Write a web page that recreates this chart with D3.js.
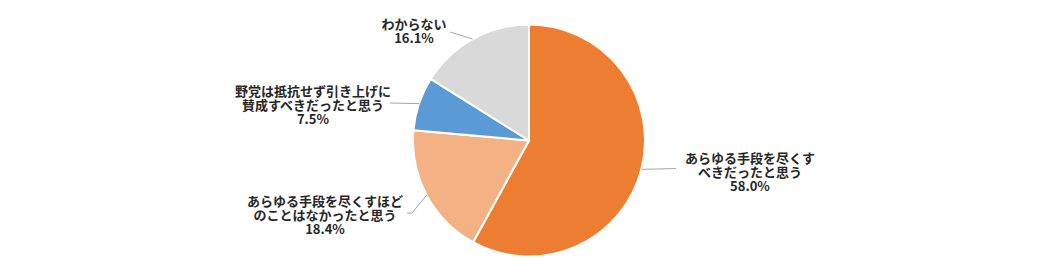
<!DOCTYPE html>
<html>
<head>
<meta charset="utf-8">
<script src="https://cdn.jsdelivr.net/npm/d3@7"></script>
<style>
  body { margin: 0; background: #fff; }
  .lbl { font-family: "Noto Sans CJK JP", "Noto Sans", sans-serif; font-weight: bold; font-size: 13px; fill: #262626; }
</style>
</head>
<body>
<div id="chart"></div>
<script>
// Pie chart of survey answers

var categories = [
    ["あらゆる手段を尽くす", "べきだったと思う"],
    ["あらゆる手段を尽くすほど", "のことはなかったと思う"],
    ["野党は抵抗せず引き上げに", "賛成すべきだったと思う"],
    ["わからない"]
];
var values = [58.0, 18.4, 7.5, 16.1];
var valueLabels = ["58.0%", "18.4%", "7.5%", "16.1%"];
var colors = ["#ED7D31", "#F4B183", "#5B9BD5", "#D9D9D9"];

var svgwidth = 1057;
var svgheight = 275;
var cx = 529, cy = 140.5, radius = 116;

// label layout relative to pie centre: text centre x, first line y, leader end
var labelLayout = [
    { tx: 221, ty: 18, lx: 147, ly: 28, elbow: null },
    { tx: -204, ty: 61, lx: -122, ly: 72.5, elbow: -117 },
    { tx: -216, ty: -49, lx: -139, ly: -37.5, elbow: null },
    { tx: -115, ty: -116, lx: -79, ly: -108.5, elbow: null }
];

var svg = d3.select("#chart")
    .append("svg")
    .attr("width", svgwidth)
    .attr("height", svgheight);

var g = svg.append("g")
    .attr("transform", `translate(${cx}, ${cy})`);

var pie = d3.pie().sort(null).value(d => d);
var arcs = pie(values);

var arc = d3.arc().innerRadius(0).outerRadius(radius);

g.selectAll("path.slice")
    .data(arcs)
    .enter()
    .append("path")
    .attr("class", "slice")
    .attr("d", arc)
    .attr("fill", (d, i) => colors[i])
    .attr("stroke", "#fff")
    .attr("stroke-width", 2);

// leader lines
arcs.forEach(function(d, i) {
    var a = (d.startAngle + d.endAngle) / 2;
    var x0 = radius * Math.sin(a), y0 = -radius * Math.cos(a);
    var L = labelLayout[i];
    var pts = [[x0, y0]];
    if (L.elbow !== null) pts.push([L.elbow, L.ly]);
    pts.push([L.lx, L.ly]);
    g.append("path")
        .attr("d", d3.line()(pts))
        .attr("fill", "none")
        .attr("stroke", "#A6A6A6")
        .attr("stroke-width", 1);

    var lines = categories[i].concat([valueLabels[i]]);
    var t = g.append("text")
        .attr("class", "lbl")
        .attr("text-anchor", "middle");
    lines.forEach(function(s, k) {
        t.append("tspan")
            .attr("x", L.tx)
            .attr("y", L.ty + k * 14)
            .attr("dy", "0.35em")
            .text(s);
    });
});
</script>
</body>
</html>
